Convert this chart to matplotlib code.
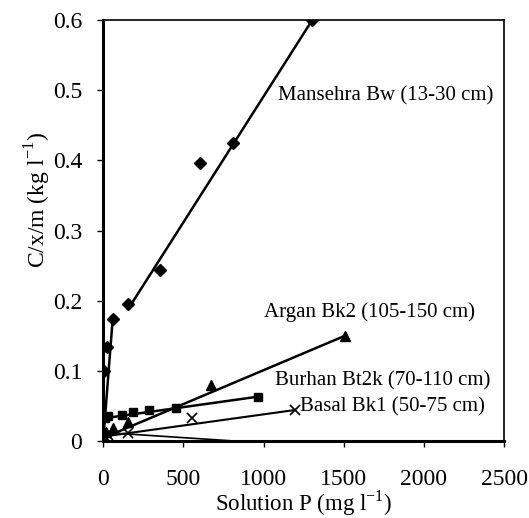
import matplotlib
matplotlib.use('Agg')
import matplotlib.pyplot as plt

plt.rcParams['font.family'] = ['Liberation Serif', 'DejaVu Serif']
plt.rcParams['mathtext.fontset'] = 'custom'
plt.rcParams['mathtext.rm'] = 'Liberation Serif'

# Mansehra Bw (13-30 cm)
mansehra_x = [3, 25, 60, 156, 355, 605, 810, 1303]
mansehra_y = [0.100, 0.134, 0.174, 0.195, 0.244, 0.396, 0.425, 0.600]
mansehra_low_x = [0, 60]
mansehra_low_y = [0.0, 0.175]
mansehra_fit_x = [156, 1303]
mansehra_fit_y = [0.188, 0.600]

# Argan Bk2 (105-150 cm)
argan_x = [5, 20, 60, 156, 673, 1509]
argan_y = [0.005, 0.012, 0.018, 0.027, 0.080, 0.150]
argan_fit_x = [0, 1509]
argan_fit_y = [0.004, 0.150]

# Burhan Bt2k (70-110 cm)
burhan_x = [10, 30, 118, 187, 287, 455, 966]
burhan_y = [0.033, 0.036, 0.037, 0.041, 0.044, 0.047, 0.063]
burhan_fit_x = [0, 966]
burhan_fit_y = [0.032, 0.063]

# Basal Bk1 (50-75 cm)
basal_x = [5, 30, 158, 553, 1197]
basal_y = [0.004, 0.008, 0.011, 0.033, 0.044]
basal_fit_x = [0, 1197]
basal_fit_y = [0.006, 0.044]

# faint descending line near the x axis
base_x = [0, 800]
base_y = [0.012, 0.0]

fig = plt.figure(figsize=(5.29, 5.18), dpi=100)
ax = fig.add_axes([0.195, 0.149, 0.758, 0.812])

ax.plot(mansehra_low_x, mansehra_low_y, color='black', lw=1.8)
ax.plot(mansehra_fit_x, mansehra_fit_y, color='black', lw=1.8)
ax.plot(mansehra_x, mansehra_y, 'D', color='black', ms=6)

ax.plot(argan_fit_x, argan_fit_y, color='black', lw=1.8)
ax.plot(argan_x, argan_y, '^', color='black', ms=7)

ax.plot(burhan_fit_x, burhan_fit_y, color='black', lw=1.8)
ax.plot(burhan_x, burhan_y, 's', color='black', ms=5.5)

ax.plot(basal_fit_x, basal_fit_y, color='black', lw=1.5)
ax.plot(basal_x, basal_y, 'x', color='black', ms=7, mew=1.2)

ax.plot(base_x, base_y, color='black', lw=1.2)

lab_fs = 15
ax.text(1091, 0.492, 'Mansehra Bw (13-30 cm)', fontsize=lab_fs, va='center')
ax.text(1004, 0.183, 'Argan Bk2 (105-150 cm)', fontsize=lab_fs, va='center')
ax.text(1072, 0.086, 'Burhan Bt2k (70-110 cm)', fontsize=lab_fs, va='center')
ax.text(1228, 0.049, 'Basal Bk1 (50-75 cm)', fontsize=lab_fs, va='center')

ax.set_xlim(0, 2500)
ax.set_ylim(0, 0.6)
ax.set_xticks([0, 500, 1000, 1500, 2000, 2500])
ax.set_yticks([0, 0.1, 0.2, 0.3, 0.4, 0.5, 0.6])
ax.set_yticklabels(['0', '0.1', '0.2', '0.3', '0.4', '0.5', '0.6'])
ax.tick_params(direction='out', length=4, width=1, labelsize=17)
ax.tick_params(axis='x', pad=16)
ax.tick_params(axis='y', pad=11)
for s in ['left', 'bottom']:
    ax.spines[s].set_linewidth(2.2)
for s in ['top', 'right']:
    ax.spines[s].set_linewidth(1.2)

ax.set_xlabel(r'Solution P (mg l$^{-1}$)', fontsize=16.5)
ax.set_ylabel(r'C/x/m (kg l$^{-1}$)', fontsize=17)
ax.xaxis.set_label_coords(0.5, -0.113)
ax.yaxis.set_label_coords(-0.125, 0.572)

fig.savefig('out.png', dpi=100)
